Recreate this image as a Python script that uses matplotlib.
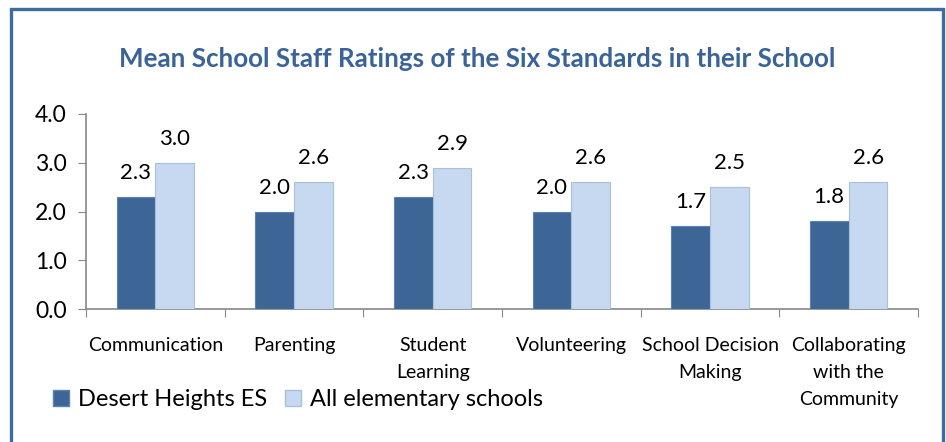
import matplotlib
matplotlib.use("Agg")
import matplotlib.pyplot as plt
import numpy as np
from matplotlib.patches import Patch, Rectangle

# data
categorias = ["Communication", "Parenting", "Student\nLearning", "Volunteering",
              "School Decision\nMaking", "Collaborating\nwith the\nCommunity"]
desert_heights = [2.3, 2.0, 2.3, 2.0, 1.7, 1.8]
todas_primarias = [3.0, 2.6, 2.9, 2.6, 2.5, 2.6]
series = ["Desert Heights ES", "All elementary schools"]
yticks = [0.0, 1.0, 2.0, 3.0, 4.0]

plt.rcParams['font.family'] = ['Lato', 'DejaVu Sans']

color_oscuro = "#3D6596"
color_claro = "#C6D9F0"
color_titulo = "#3A6399"
color_eje = "#888888"

fig = plt.figure(figsize=(9.46, 4.42), dpi=100)
ax = fig.add_axes([86/946, 1 - 309/442, (918 - 86)/946, (309 - 114)/442])

x = np.arange(len(categorias))
ancho = 0.28
b1 = ax.bar(x - ancho/2, desert_heights, ancho, color=color_oscuro,
            edgecolor="#5A82B4", linewidth=0.8, zorder=3)
b2 = ax.bar(x + ancho/2, todas_primarias, ancho, color=color_claro,
            edgecolor="#A9BFDB", linewidth=0.8, zorder=3)

for barras, valores in ((b1, desert_heights), (b2, todas_primarias)):
    for b, v in zip(barras, valores):
        ax.annotate(f"{v:.1f}", (b.get_x() + b.get_width()/2, v),
                    xytext=(0, 10), textcoords="offset points",
                    ha="center", va="bottom", fontsize=16)

ax.set_xlim(-0.5, len(categorias) - 0.5)
ax.set_ylim(0, 4)
ax.set_yticks(yticks)
ax.set_yticklabels([f"{t:.1f}" for t in yticks], fontsize=16.5)
ax.set_xticks(np.arange(len(categorias) + 1) - 0.5)
ax.set_xticklabels([])
ax.set_xticks(x, minor=True)
ax.set_xticklabels(categorias, minor=True, fontsize=14, linespacing=1.72, va="top")
ax.tick_params(axis="x", which="minor", length=0, pad=20)
ax.tick_params(axis="x", which="major", length=6, direction="out", color=color_eje)
ax.tick_params(axis="y", length=6, direction="out", color=color_eje, pad=8)

for lado in ("top", "right"):
    ax.spines[lado].set_visible(False)
for lado in ("left", "bottom"):
    ax.spines[lado].set_color(color_eje)
    ax.spines[lado].set_linewidth(1.2)

fig.text(477/946, 1 - 59/442, "Mean School Staff Ratings of the Six Standards in their School",
         ha="center", va="center", fontsize=18.7, fontweight="bold", color=color_titulo)

manejadores = [Patch(facecolor=color_oscuro, edgecolor="#5A82B4"),
               Patch(facecolor=color_claro, edgecolor="#A9BFDB")]
fig.legend(manejadores, series, loc="center left", bbox_to_anchor=(44/946, 1 - 400/442),
           ncol=2, frameon=False, fontsize=17, handlelength=0.65, handleheight=0.65,
           handletextpad=0.4, columnspacing=0.75, borderaxespad=0)

# marco azul alrededor del grafico
marco = Rectangle((11/946, -0.1), (943 - 11)/946, 1.1 - 9/442, transform=fig.transFigure,
                  fill=False, edgecolor="#3F6CA0", linewidth=2.4, clip_on=False)
fig.patches.append(marco)

fig.savefig("out.png", dpi=100, facecolor="white")
